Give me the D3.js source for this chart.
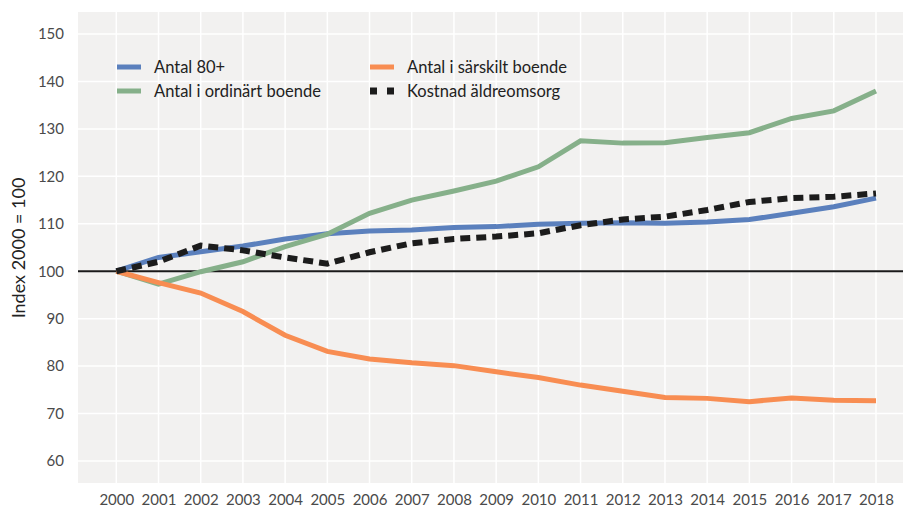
<!DOCTYPE html>
<meta charset="utf-8">
<style>
body { margin: 0; background: #fff; }
text { font-family: Lato, "Open Sans", sans-serif; }
.tick text { fill: #4a4a4a; font-size: 15px; }
.legend text { fill: #222; font-size: 16.5px; }
</style>
<body>
<script src="https://d3js.org/d3.v7.min.js"></script>
<script>
var width = 903,
    height = 508;

var years = d3.range(2000, 2019);
var yTicks = [60, 70, 80, 90, 100, 110, 120, 130, 140, 150];

var antal80 = [100, 102.9, 104.1, 105.3, 106.8, 107.9, 108.5, 108.7, 109.2, 109.4,
               109.9, 110.1, 110.2, 110.1, 110.4, 110.9, 112.2, 113.6, 115.4];
var ordinart = [100, 97.3, 99.9, 102.0, 105.2, 107.8, 112.2, 115.0, 116.9, 119.0,
                122.0, 127.5, 127.0, 127.1, 128.2, 129.2, 132.2, 133.8, 138.0];
var sarskilt = [100, 97.6, 95.4, 91.5, 86.5, 83.1, 81.5, 80.7, 80.1, 78.8,
                77.6, 76.0, 74.7, 73.4, 73.2, 72.5, 73.3, 72.8, 72.7];
var kostnad = [100, 102.0, 105.4, 104.4, 102.9, 101.6, 104.0, 105.9, 106.8, 107.3,
               108.0, 109.7, 110.9, 111.5, 112.9, 114.6, 115.4, 115.7, 116.4];

var series = [
  { name: "Antal 80+", values: antal80, color: "#5b80bd", dash: null },
  { name: "Antal i ordinärt boende", values: ordinart, color: "#86b08a", dash: null },
  { name: "Antal i särskilt boende", values: sarskilt, color: "#f88d52", dash: null },
  { name: "Kostnad äldreomsorg", values: kostnad, color: "#1c1c1c", dash: "10,6" }
];

var plot = { left: 78, top: 12, right: 903, bottom: 483 };

var x = d3.scaleLinear().domain([2000, 2018]).range([116.3, 876]);
var y = d3.scaleLinear().domain([60, 150]).range([461, 34]);

var svg = d3.select("body").append("svg")
    .attr("width", width)
    .attr("height", height);

svg.append("rect")
    .attr("x", plot.left).attr("y", plot.top)
    .attr("width", plot.right - plot.left)
    .attr("height", plot.bottom - plot.top)
    .attr("fill", "#f2f1f0");

// grid
svg.append("g").selectAll("line")
    .data(years).enter().append("line")
    .attr("x1", d => x(d)).attr("x2", d => x(d))
    .attr("y1", plot.top).attr("y2", plot.bottom)
    .attr("stroke", "#fff").attr("stroke-width", 1.5);

svg.append("g").selectAll("line")
    .data(yTicks).enter().append("line")
    .attr("x1", plot.left).attr("x2", plot.right)
    .attr("y1", d => y(d)).attr("y2", d => y(d))
    .attr("stroke", "#fff").attr("stroke-width", 1.5);

// axes (labels only)
var xAxis = svg.append("g")
    .attr("transform", "translate(0," + plot.bottom + ")")
    .call(d3.axisBottom(x).tickValues(years).tickFormat(d3.format("d")).tickSize(0).tickPadding(11));
xAxis.select(".domain").remove();

var yAxis = svg.append("g")
    .attr("transform", "translate(" + plot.left + ",0)")
    .call(d3.axisLeft(y).tickValues(yTicks).tickSize(0).tickPadding(14));
yAxis.select(".domain").remove();

svg.append("text")
    .attr("transform", "translate(25,248) rotate(-90)")
    .attr("text-anchor", "middle")
    .attr("fill", "#222")
    .style("font-size", "18px")
    .text("Index 2000 = 100");

// base line at 100
svg.append("line")
    .attr("x1", plot.left).attr("x2", plot.right)
    .attr("y1", y(100)).attr("y2", y(100))
    .attr("stroke", "#1a1a1a").attr("stroke-width", 2);

var line = d3.line()
    .x((d, i) => x(years[i]))
    .y(d => y(d));

svg.append("g").selectAll("path")
    .data(series).enter().append("path")
    .attr("d", d => line(d.values))
    .attr("fill", "none")
    .attr("stroke", d => d.color)
    .attr("stroke-width", d => d.dash ? 6 : 5)
    .attr("stroke-dasharray", d => d.dash);

// legend
var legendPos = [[117, 67], [117, 91], [370, 67], [370, 91]];
var legend = svg.append("g").attr("class", "legend")
    .selectAll("g").data(series).enter().append("g")
    .attr("transform", (d, i) => "translate(" + legendPos[i][0] + "," + legendPos[i][1] + ")");

legend.append("line")
    .attr("x1", 0).attr("x2", 24)
    .attr("stroke", d => d.color)
    .attr("stroke-width", d => d.dash ? 7 : 5)
    .attr("stroke-dasharray", d => d.dash ? "7,10" : null);

legend.append("text")
    .attr("x", 37).attr("dy", "0.35em")
    .text(d => d.name);
</script>
</body>
</html>
